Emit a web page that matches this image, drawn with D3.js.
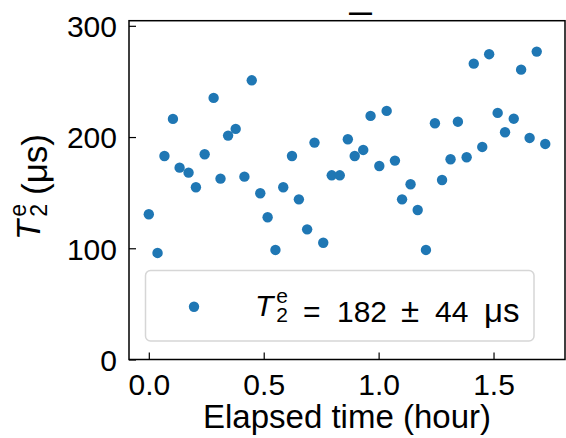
<!DOCTYPE html>
<html>
<head>
<meta charset="utf-8">
<script src="https://cdn.jsdelivr.net/npm/d3@7"></script>
<style>
  body { margin: 0; background: #fff; }
  text { font-family: "Liberation Sans", Arial, sans-serif; fill: #000; }
  .axis path { display: none; }
  .axis line { stroke: #000; stroke-width: 1.2; }
</style>
</head>
<body>
<div class="chart"></div>
<script>
// Data
var hours = [0.000, 0.038, 0.068, 0.105, 0.134, 0.173, 0.205, 0.243, 0.282, 0.312,
             0.345, 0.378, 0.416, 0.448, 0.485, 0.517, 0.551, 0.585, 0.623, 0.653,
             0.689, 0.721, 0.759, 0.796, 0.831, 0.866, 0.896, 0.933, 0.965, 1.003,
             1.035, 1.071, 1.102, 1.139, 1.170, 1.206, 1.245, 1.276, 1.313, 1.345,
             1.383, 1.414, 1.451, 1.481, 1.518, 1.550, 1.588, 1.620, 1.657, 1.688, 1.725];
var t2 = [130.6, 95.8, 183, 216.3, 172.5, 168, 154.9, 184.5, 235.2, 162.6,
          201.3, 207.3, 164.4, 251, 149.5, 127.9, 98.5, 154.9, 183, 144,
          117, 195, 105, 165.6, 165.6, 198, 183, 188.4, 219, 174,
          223.5, 178.8, 144, 157.6, 134.4, 98.5, 212.4, 161.4, 180, 213.8,
          181.8, 266, 191.1, 274.5, 221.7, 204.3, 216.5, 260.6, 199.2, 276.8, 193.8];
var xTicks = [0, 0.5, 1.0, 1.5];
var yTicks = [0, 100, 200, 300];
var t2Mean = 182;
var t2Std = 44;
var titleText = "\u2014";

var svgWidth = 566;
var svgHeight = 438;
var plot = { left: 129, right: 565, top: 20.7, bottom: 359.5 };
var blue = "#1f77b4";

var svg = d3.select(".chart")
  .append("svg")
  .attr("width", svgWidth)
  .attr("height", svgHeight);

// matplotlib-like 5% margins on x, y from 0
var x = d3.scaleLinear().domain([-0.0862, 1.811]).range([plot.left, plot.right]);
var y = d3.scaleLinear().domain([0, 304.6]).range([plot.bottom, plot.top]);

// x axis, ticks pointing inward
svg.append("g")
  .attr("class", "axis")
  .attr("transform", `translate(0,${plot.bottom})`)
  .call(d3.axisBottom(x).tickValues(xTicks).tickFormat(d3.format(".1f"))
    .tickSizeInner(-7).tickSizeOuter(0).tickPadding(14))
  .selectAll("text")
  .style("font-size", "30px")
  .attr("dy", "0.71em");

// y axis
svg.append("g")
  .attr("class", "axis")
  .attr("transform", `translate(${plot.left},0)`)
  .call(d3.axisLeft(y).tickValues(yTicks).tickFormat(d3.format("d"))
    .tickSizeInner(-7).tickSizeOuter(0).tickPadding(12))
  .selectAll("text")
  .style("font-size", "30px")
  .attr("dy", "0.36em");

// frame
svg.append("rect")
  .attr("x", plot.left)
  .attr("y", plot.top)
  .attr("width", plot.right - plot.left)
  .attr("height", plot.bottom - plot.top)
  .attr("fill", "none")
  .attr("stroke", "#000")
  .attr("stroke-width", 1.5);

// points
svg.append("g")
  .selectAll("circle")
  .data(hours)
  .enter().append("circle")
  .attr("cx", function(d) { return x(d); })
  .attr("cy", function(d, i) { return y(t2[i]); })
  .attr("r", 5.2)
  .attr("fill", blue);

// title (just a dash in the source)
svg.append("text")
  .attr("x", 360.5)
  .attr("y", 20)
  .attr("text-anchor", "middle")
  .style("font-size", "23px")
  .style("font-weight", "bold")
  .text(titleText);

// T_2^e inside one text element, returns width of the symbol
function t2Symbol(txt, x0, size) {
  var tT = txt.append("tspan")
    .attr("x", x0)
    .style("font-style", "italic")
    .text("T");
  var wT = tT.node().getComputedTextLength() + 3;
  var small = size * 0.7;
  var e = txt.append("tspan")
    .attr("x", x0 + wT).attr("dy", -size * 0.42)
    .style("font-size", small + "px")
    .text("e");
  var two = txt.append("tspan")
    .attr("x", x0 + wT).attr("dy", size * 0.62)
    .style("font-size", small + "px")
    .text("2");
  // back to the baseline for whatever follows
  txt.append("tspan").attr("dy", -size * 0.2).text("");
  var w = Math.max(e.node().getComputedTextLength(), two.node().getComputedTextLength());
  return wT + w;
}

// legend
var legend = svg.append("g");
legend.append("rect")
  .attr("x", 145.5)
  .attr("y", 270.5)
  .attr("width", 388.5)
  .attr("height", 70.5)
  .attr("rx", 5)
  .attr("fill", "#fff")
  .attr("fill-opacity", 0.8)
  .attr("stroke", "#d6d6d6")
  .attr("stroke-width", 1.5);
legend.append("circle")
  .attr("cx", 194)
  .attr("cy", 306.7)
  .attr("r", 5.2)
  .attr("fill", blue);

var lx = 255;
var legText = legend.append("text")
  .attr("x", lx)
  .attr("y", 315.7)
  .style("font-size", "30px");
t2Symbol(legText, lx, 30);
// mathtext-like spacing around = and ±
legText.append("tspan").attr("x", lx + 48).text("=");
legText.append("tspan").attr("x", lx + 82).text(t2Mean);
legText.append("tspan").attr("x", lx + 146).style("font-size", "33px").text("\u00b1");
legText.append("tspan").attr("x", lx + 180).text(t2Std);
legText.append("tspan").attr("x", lx + 229).style("font-size", "33px").text("\u03bcs");

// x label
svg.append("text")
  .attr("x", 347)
  .attr("y", 428)
  .attr("text-anchor", "middle")
  .style("font-size", "33px")
  .text("Elapsed time (hour)");

// y label, rotated
var yl = svg.append("g").attr("transform", "translate(40,187) rotate(-90)");
var ylText = yl.append("text").attr("x", 0).attr("y", 0).style("font-size", "33px");
var ws = t2Symbol(ylText, 0, 33);
var rest = ylText.append("tspan")
  .attr("x", ws + 9)
  .style("font-size", "35px")
  .text("(\u03bcs)");
var total = ws + 9 + rest.node().getComputedTextLength();
ylText.attr("transform", `translate(${-total / 2},0)`);
</script>
</body>
</html>
